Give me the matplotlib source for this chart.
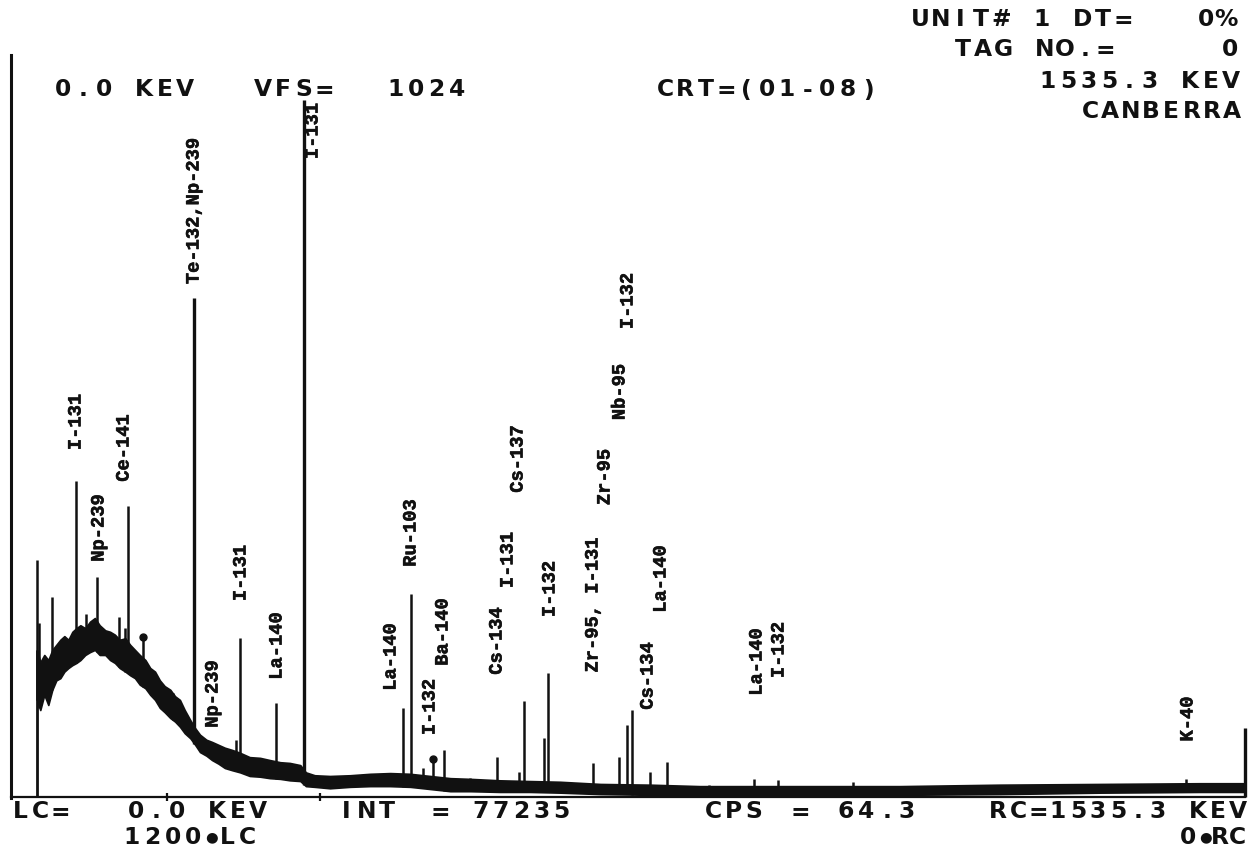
import matplotlib
matplotlib.use("Agg")
import matplotlib.pyplot as plt
import matplotlib.patheffects as pe
from matplotlib.lines import Line2D
import numpy as np

W, H = 1248, 851
FULL_SCALE_KEV = 1535.3
VFS = 1024
INK = "#111111"

# Continuum of the gamma spectrum: energy (keV) with the upper and lower
# edges of the noisy count band.
band_kev = [30, 34, 39, 44, 49, 54, 59, 64, 69, 74, 79, 84, 90, 96, 102, 108, 115, 121, 127, 133,
            140, 146, 152, 158, 165, 171, 177, 183, 189, 196, 202, 208, 214, 221, 227, 233, 241, 248,
            256, 264, 273, 283, 295, 308, 320, 333, 345, 358, 365, 376, 395, 420, 445, 470, 495, 520,
            545, 570, 607, 644, 682, 732, 794, 856, 981, 1105, 1230, 1355, 1479, 1533]
band_upper = [203, 186, 196, 189, 203, 210, 217, 222, 217, 228, 233, 237, 233, 242, 247, 237, 230, 228,
              224, 217, 219, 210, 203, 196, 189, 178, 173, 161, 153, 148, 139, 134, 120, 106, 95, 86,
              79, 76, 72, 68, 65, 61, 55, 54, 51, 48, 47, 44, 34, 30, 29, 30, 32, 33, 32, 29, 26, 25,
              23, 22, 21, 18, 17, 15, 15, 15, 17, 18, 19, 19]
band_lower = [134, 120, 141, 127, 148, 161, 164, 173, 178, 182, 185, 189, 196, 200, 203, 196, 196, 189,
              185, 178, 173, 168, 164, 155, 150, 141, 134, 123, 117, 109, 104, 97, 88, 81, 72, 62, 57,
              51, 46, 40, 37, 34, 29, 28, 26, 25, 23, 22, 15, 14, 12, 14, 15, 15, 14, 11, 8, 8, 7, 7,
              6, 4, 3, 3, 3, 3, 4, 6, 7, 7]

# Photopeaks: energy (keV) and peak counts
peak_kev = [30, 33, 49, 79, 91, 105, 132, 140, 143, 162, 199, 226, 278, 283, 328, 363, 486, 496, 511,
            523, 537, 570, 603, 631, 637, 662, 667, 723, 755, 765, 771, 794, 815, 867, 923, 953,
            1047, 1462]
peak_counts = [327, 240, 276, 436, 252, 304, 248, 233, 402, 221, 144, 689, 79, 219, 130, 962, 123,
               280, 40, 52, 65, 26, 55, 35, 132, 81, 171, 47, 55, 99, 120, 35, 48, 17, 25, 23, 21, 25]
marked_kev = [162, 523]
cursor_kev = [192, 383]
rc_marker_counts = 95

# Nuclide identifications
nuclide_names = ["I-131", "Np-239", "Ce-141", "Te-132,Np-239", "I-131", "Np-239", "I-131", "La-140",
                 "La-140", "Ru-103", "I-132", "Ba-140", "Cs-134", "I-131", "Cs-137", "I-132",
                 "Zr-95, I-131", "Zr-95", "Nb-95", "I-132", "La-140", "Cs-134", "La-140", "I-132", "K-40"]

# Placement of the rotated nuclide labels (pixel centres)
label_xy = [(76, 422), (99, 528), (124, 448), (194, 211), (313, 131), (213, 694), (241, 573),
            (277, 646), (391, 657), (411, 533), (430, 707), (443, 632), (497, 641), (508, 560),
            (518, 459), (550, 589), (593, 605), (605, 477), (620, 392), (628, 301), (661, 579),
            (648, 676), (757, 662), (779, 650), (1188, 719)]

# Printer header / footer fields: (text, left px, middle px, character pitch px)
header_fields = [("UNIT# 1", 912, 18, 20.3), ("DT=", 1075, 18, 20.3), ("0%", 1198, 18, 20.3),
                 ("TAG NO.=", 955, 48, 20.3), ("0", 1222, 48, 20.3),
                 ("1535.3 KEV", 1040, 80, 20.3), ("CANBERRA", 1082, 110, 20.3),
                 ("0.0 KEV", 55, 88, 20.3), ("VFS=", 255, 88, 20.3), ("1024", 388, 88, 20.3),
                 ("CRT=(01-08)", 657, 88, 20.3)]
footer_fields = [("LC=", 12, 810, 20.3), ("0.0 KEV", 128, 810, 20.3), ("INT", 338, 810, 20.3),
                 ("= 77235", 432, 810, 20.3), ("CPS", 705, 810, 20.3), ("=", 792, 810, 20.3),
                 ("64.3", 838, 810, 20.3), ("RC=1535.3 KEV", 990, 810, 20.0),
                 ("1200", 124, 836, 20.3), ("\u25cf", 204, 836, 20.3), ("LC", 219, 836, 20.0),
                 ("0", 1180, 836, 20.3), ("\u25cf", 1198, 836, 20.3), ("RC", 1212, 836, 17.0)]

fig = plt.figure(figsize=(W / 100, H / 100), dpi=100)
fig.patch.set_facecolor("white")

X0, X1, Y0, Y1 = 13, 1245, 797, 55  # plot box in pixels
ax = fig.add_axes([X0 / W, 1 - Y0 / H, (X1 - X0) / W, (Y0 - Y1) / H])
ax.set_xlim(0, FULL_SCALE_KEV)
ax.set_ylim(0, VFS)
ax.axis("off")

kev = np.array(band_kev, dtype=float)
upper = np.array(band_upper, dtype=float)
lower = np.array(band_lower, dtype=float)

# noisy continuum band
ax.fill_between(kev, lower, upper, color=INK, linewidth=1.2, edgecolor=INK)
ax.vlines(kev[0], 0, upper[0], color=INK, lw=2.0)

# photopeaks rising out of the continuum (tallest lines drawn heavier)
pk = np.array(peak_kev, dtype=float)
pc = np.array(peak_counts, dtype=float)
base = np.interp(pk, kev, lower)
widths = np.where(pc > 600, 2.4, 1.8)
ax.vlines(pk, base, pc, color=INK, lw=widths)
mk = np.array(marked_kev, dtype=float)
ax.plot(mk, np.interp(mk, pk, pc), "o", color=INK, ms=5)

# baseline, cursors, right-hand marker
ax.plot([-2, FULL_SCALE_KEV], [0, 0], color=INK, lw=1.6, clip_on=False)
ax.vlines(cursor_kev, -6, 6, color=INK, lw=1.6, clip_on=False)
ax.vlines(FULL_SCALE_KEV, 0, rc_marker_counts, color=INK, lw=2.4, clip_on=False)


def px(x, y):
    return x / W, 1 - y / H


# left frame line
fig.add_artist(Line2D([11 / W, 11 / W], [1 - 798 / H, 1 - 55 / H], color=INK, lw=2.2))


def grid_text(s, x_left, y_mid, pitch, size=16.8):
    for i, ch in enumerate(s):
        if ch == " ":
            continue
        cx = x_left + 8 + i * pitch
        if ch == "\u25cf":
            fx, fy = px(cx, y_mid + 1)
            fig.text(fx, fy, ch, ha="center", va="center", fontsize=size * 0.62,
                     family="DejaVu Sans", color=INK)
            continue
        fx, fy = px(cx, y_mid + 8.5)
        fig.text(fx, fy, ch, ha="center", va="baseline", fontsize=size,
                 family="DejaVu Sans", weight="bold", color=INK)


for s, x, y, p in header_fields + footer_fields:
    grid_text(s, x, y, p)

thicken = [pe.withStroke(linewidth=0.4, foreground=INK)]
for name, (x, y) in zip(nuclide_names, label_xy):
    fx, fy = px(x, y)
    fig.text(fx, fy, name, rotation=90, ha="center", va="center", fontsize=13.5,
             family="Liberation Mono", weight="bold", color=INK, path_effects=thicken)

fig.savefig("out.png", dpi=100, facecolor="white")
